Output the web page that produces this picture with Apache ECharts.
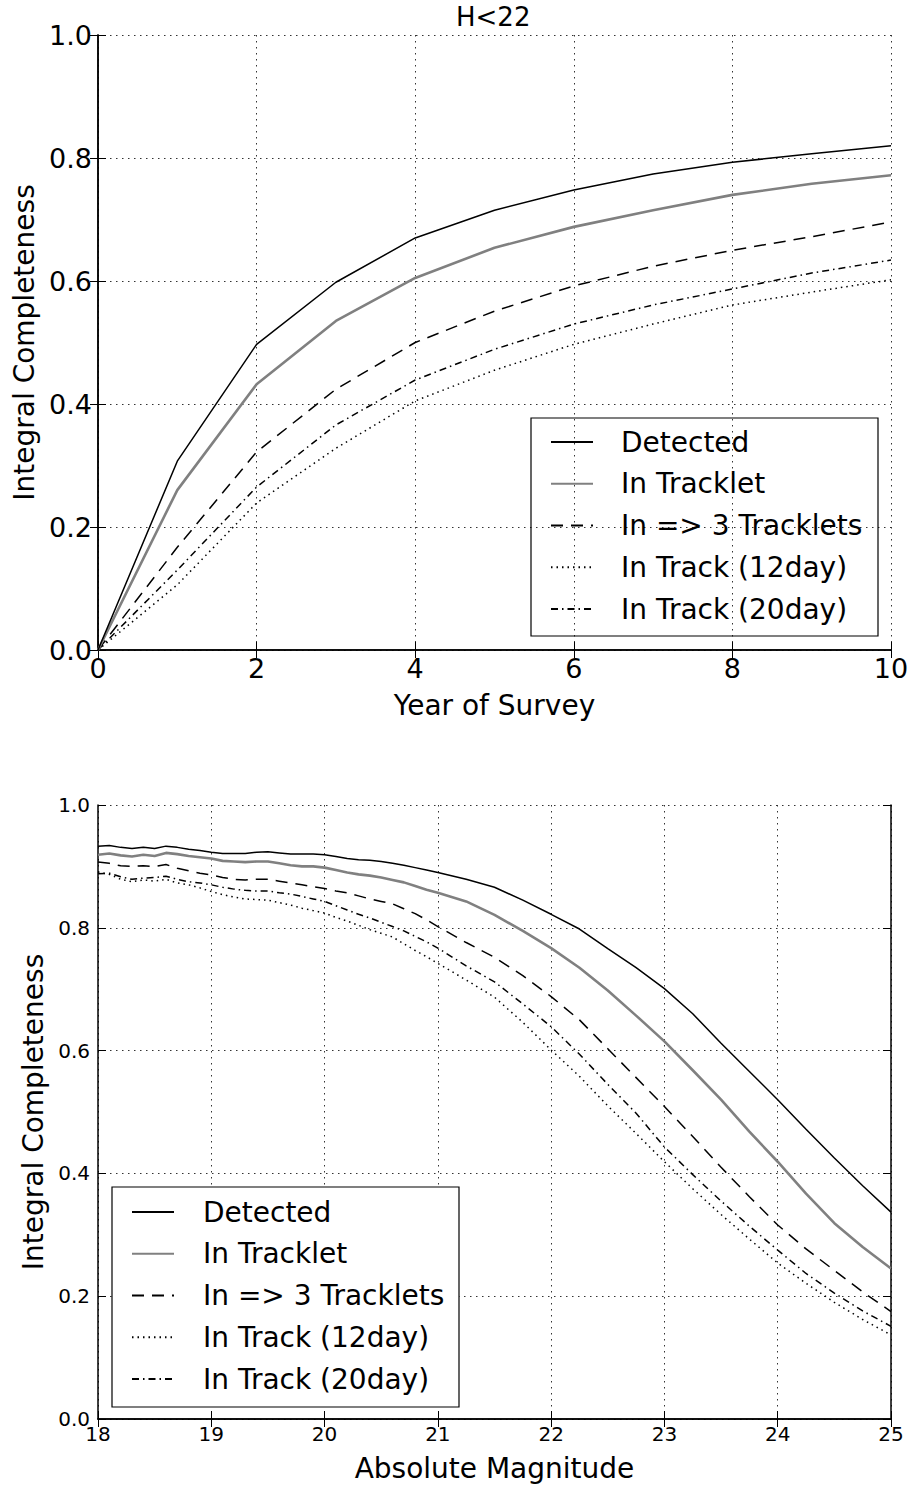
<!DOCTYPE html>
<html>
<head>
<meta charset="UTF-8">
<title>Integral Completeness</title>
<script src="https://cdn.jsdelivr.net/npm/echarts@6/dist/echarts.min.js"></script>
<style>
  html, body { margin: 0; padding: 0; background: #fff; }
  #main { width: 912px; height: 1486px; }
</style>
</head>
<body>
<div id="main"></div>
<script>
// top panel: completeness vs year of survey (H<22)
var years = [0, 1, 2, 3, 4, 5, 6, 7, 8, 9, 10];
var detTop = [0, 0.307, 0.497, 0.598, 0.670, 0.715, 0.748, 0.774, 0.793, 0.807, 0.820];
var trkTop = [0, 0.260, 0.432, 0.535, 0.605, 0.654, 0.688, 0.715, 0.740, 0.758, 0.772];
var tr3Top = [0, 0.167, 0.322, 0.424, 0.500, 0.551, 0.592, 0.624, 0.650, 0.672, 0.696];
var d12Top = [0, 0.106, 0.239, 0.328, 0.405, 0.455, 0.497, 0.530, 0.561, 0.582, 0.602];
var d20Top = [0, 0.130, 0.265, 0.366, 0.439, 0.489, 0.530, 0.561, 0.587, 0.613, 0.634];

// bottom panel: completeness vs absolute magnitude
var hMag = [18.0, 18.1, 18.2, 18.3, 18.4, 18.5, 18.6, 18.7, 18.8, 18.9,
            19.0, 19.1, 19.2, 19.3, 19.4, 19.5, 19.6, 19.7, 19.8, 19.9,
            20.0, 20.1, 20.2, 20.3, 20.4, 20.5, 20.6, 20.7, 20.8, 20.9,
            21.0, 21.25, 21.5, 21.75, 22.0, 22.25, 22.5, 22.75, 23.0, 23.25,
            23.5, 23.75, 24.0, 24.25, 24.5, 24.75, 25.0];
var detBot = [0.933, 0.934, 0.931, 0.929, 0.931, 0.929, 0.933, 0.931, 0.928, 0.926,
              0.923, 0.921, 0.921, 0.921, 0.923, 0.924, 0.922, 0.920, 0.920, 0.920,
              0.919, 0.916, 0.913, 0.911, 0.910, 0.908, 0.905, 0.902, 0.898, 0.894,
              0.890, 0.879, 0.866, 0.845, 0.822, 0.798, 0.766, 0.735, 0.701, 0.660,
              0.612, 0.566, 0.520, 0.472, 0.425, 0.380, 0.337];
var trkBot = [0.919, 0.921, 0.918, 0.916, 0.919, 0.917, 0.922, 0.920, 0.917, 0.915,
              0.913, 0.909, 0.908, 0.907, 0.908, 0.908, 0.905, 0.902, 0.900, 0.900,
              0.898, 0.894, 0.890, 0.887, 0.885, 0.882, 0.878, 0.874, 0.868, 0.862,
              0.857, 0.843, 0.821, 0.795, 0.767, 0.735, 0.698, 0.657, 0.615, 0.568,
              0.520, 0.468, 0.419, 0.367, 0.319, 0.280, 0.245];
var tr3Bot = [0.907, 0.905, 0.901, 0.900, 0.901, 0.900, 0.903, 0.897, 0.893, 0.889,
              0.886, 0.882, 0.879, 0.878, 0.879, 0.879, 0.876, 0.873, 0.870, 0.867,
              0.864, 0.860, 0.857, 0.852, 0.847, 0.843, 0.839, 0.831, 0.823, 0.813,
              0.802, 0.776, 0.752, 0.722, 0.688, 0.650, 0.603, 0.556, 0.509, 0.460,
              0.410, 0.362, 0.316, 0.277, 0.242, 0.207, 0.175];
var d12Bot = [0.891, 0.887, 0.879, 0.875, 0.878, 0.876, 0.879, 0.873, 0.870, 0.865,
              0.859, 0.854, 0.850, 0.847, 0.846, 0.845, 0.841, 0.837, 0.832, 0.828,
              0.824, 0.817, 0.811, 0.804, 0.797, 0.791, 0.785, 0.774, 0.763, 0.753,
              0.742, 0.715, 0.687, 0.646, 0.601, 0.558, 0.510, 0.465, 0.419, 0.375,
              0.333, 0.293, 0.254, 0.221, 0.190, 0.162, 0.137];
var d20Bot = [0.888, 0.889, 0.883, 0.879, 0.881, 0.882, 0.884, 0.879, 0.875, 0.873,
              0.870, 0.866, 0.863, 0.861, 0.860, 0.860, 0.857, 0.855, 0.851, 0.847,
              0.843, 0.836, 0.829, 0.822, 0.816, 0.809, 0.802, 0.795, 0.786, 0.777,
              0.767, 0.738, 0.712, 0.676, 0.639, 0.594, 0.545, 0.498, 0.443, 0.398,
              0.355, 0.314, 0.275, 0.237, 0.205, 0.176, 0.151];

var names = ['Detected', 'In Tracklet', 'In => 3 Tracklets', 'In Track (12day)', 'In Track (20day)'];
var font = 'DejaVu Sans';

function pairs(xs, ys) {
    return xs.map(function (x, i) { return [x, ys[i]]; });
}

// line looks, same for both panels
var looks = [
    {color: '#000', width: 1.5, type: 'solid'},
    {color: '#808080', width: 2.6, type: 'solid'},
    {color: '#000', width: 1.5, type: [12, 8]},
    {color: '#000', width: 1.5, type: [1.5, 4]},
    {color: '#000', width: 1.5, type: [7, 4, 1.5, 4]}
];

function mkSeries(xIdx, yIdx, xs, list) {
    return list.map(function (ys, i) {
        return {
            name: names[i],
            type: 'line',
            xAxisIndex: xIdx,
            yAxisIndex: yIdx,
            symbol: 'none',
            lineStyle: looks[i],
            itemStyle: {color: looks[i].color},
            data: pairs(xs, ys),
            z: 5 - i
        };
    });
}

var frame = {show: true, lineStyle: {color: '#000', width: 1.5}};
var grid = {show: true, lineStyle: {color: '#333', width: 1, type: [1.5, 4.5]}};

function xAx(gi, min, max, step, fs, mg, pos, main, nameTxt, gap) {
    return {
        type: 'value', gridIndex: gi, position: pos, min: min, max: max, interval: step,
        axisLine: frame,
        axisTick: {show: true, inside: true, length: 8, lineStyle: {color: '#000', width: 1}},
        axisLabel: {show: main, margin: mg, fontSize: fs, color: '#000', fontFamily: font},
        splitLine: main ? grid : {show: false},
        name: main ? nameTxt : '',
        nameLocation: 'middle',
        nameGap: gap,
        nameTextStyle: {fontSize: 28, color: '#000', fontFamily: font}
    };
}
function yAx(gi, fs, mg, pos, main, gap) {
    return {
        type: 'value', gridIndex: gi, position: pos, min: 0, max: 1, interval: 0.2,
        axisLine: frame,
        axisTick: {show: true, inside: true, length: 8, lineStyle: {color: '#000', width: 1}},
        axisLabel: {show: main, margin: mg, fontSize: fs, color: '#000', fontFamily: font,
            formatter: function (v) { return v.toFixed(1); }},
        splitLine: main ? grid : {show: false},
        name: main ? 'Integral Completeness' : '',
        nameLocation: 'middle',
        nameGap: gap,
        nameRotate: 90,
        nameTextStyle: {fontSize: 28, color: '#000', fontFamily: font}
    };
}

function mkLegend(left, top, pad) {
    return {
        orient: 'vertical',
        left: left,
        top: top,
        data: names,
        itemWidth: 42,
        itemHeight: 20,
        itemGap: 13.75,
        selectedMode: false,
        itemStyle: {opacity: 0},
        textStyle: {fontSize: 28, color: '#000', fontFamily: font, padding: [0, 0, 0, pad], lineHeight: 28}
    };
}

var chart = echarts.init(document.getElementById('main'), null, {renderer: 'svg'});
var option = {
    animation: false,
    backgroundColor: '#fff',
    title: {
        text: 'H<22',
        left: 456,
        top: 4,
        padding: 0,
        textStyle: {fontSize: 26, lineHeight: 26, fontWeight: 'normal', color: '#000', fontFamily: font}
    },
    grid: [
        {left: 98, top: 35, width: 793, height: 615},
        {left: 98, top: 805, width: 793, height: 614}
    ],
    xAxis: [
        xAx(0, 0, 10, 2, 27, 5, 'bottom', true, 'Year of Survey', 41),
        xAx(0, 0, 10, 2, 27, 5, 'top', false, '', 0),
        xAx(1, 18, 25, 1, 20, 5, 'bottom', true, 'Absolute Magnitude', 35),
        xAx(1, 18, 25, 1, 20, 5, 'top', false, '', 0)
    ],
    yAxis: [
        yAx(0, 27, 6, 'left', true, 57),
        yAx(0, 27, 6, 'right', false, 0),
        yAx(1, 20, 8, 'left', true, 49),
        yAx(1, 20, 8, 'right', false, 0)
    ],
    legend: [mkLegend(545, 423, 23), mkLegend(126, 1193, 24)],
    graphic: [
        {type: 'rect', shape: {x: 531, y: 418, width: 347, height: 218},
            style: {fill: 'none', stroke: '#000', lineWidth: 1.2}, z: 100},
        {type: 'rect', shape: {x: 112, y: 1187, width: 347, height: 220},
            style: {fill: '#fff', stroke: '#000', lineWidth: 1.2}, z: 1}
    ],
    series: mkSeries(0, 0, years, [detTop, trkTop, tr3Top, d12Top, d20Top])
        .concat(mkSeries(2, 2, hMag, [detBot, trkBot, tr3Bot, d12Bot, d20Bot]))
};
chart.setOption(option);
</script>
</body>
</html>
